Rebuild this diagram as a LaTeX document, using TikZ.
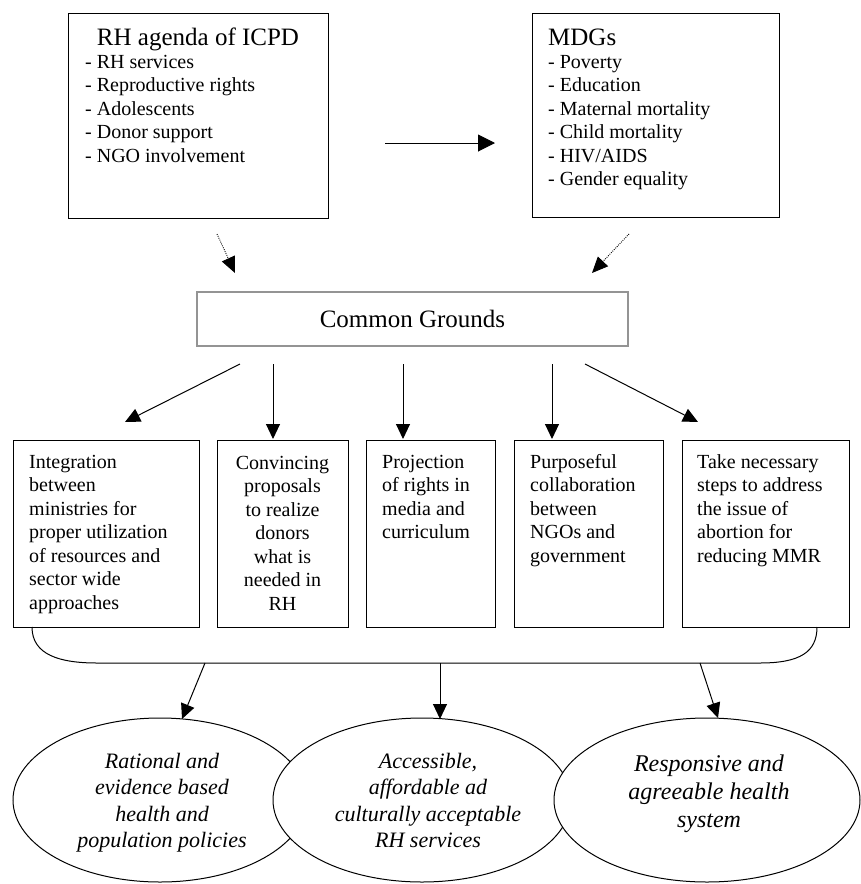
\documentclass[tikz,border=0pt]{standalone}
\usepackage{fontspec}
\setmainfont{Liberation Serif}
\usetikzlibrary{arrows.meta,shapes.geometric}
\tikzset{
  frame/.style={draw, line width=1pt, inner sep=0pt, anchor=north west},
  txt/.style={inner sep=0pt, anchor=base west, align=left, font=\fontsize{20}{23.5}\selectfont},
  ctxt/.style={inner sep=0pt, anchor=base, align=center, font=\fontsize{20}{23.5}\selectfont},
  ttl/.style={inner sep=0pt, font=\fontsize{25}{30}\selectfont},
  arr/.style={line width=1pt, -{Triangle[length=15pt,width=14pt]}},
  bigarr/.style={line width=1pt, -{Triangle[length=17pt,width=17pt]}},
  dotarr/.style={line width=0.9pt, dash pattern=on 0.9pt off 1.2pt, -{Triangle[length=16pt,width=14pt]}},
  oval/.style={ellipse, draw, fill=white, line width=1pt, inner sep=0pt},
  etxt/.style={inner sep=0pt, anchor=base, align=center, font=\itshape\fontsize{22}{26.5}\selectfont},
}
\begin{document}
\begin{tikzpicture}[x=1pt,y=-1pt]
\useasboundingbox (0,0) rectangle (861,884);

% top boxes (multi-line nodes: base anchor = last line's baseline)
\node[frame, minimum width=260, minimum height=205] (icpd) at (68,13) {};
\node[ttl, anchor=base] (icpdT) at (198,45) {RH agenda of ICPD};
\node[txt] (icpdL) at (85,162) {- RH services\\- Reproductive rights\\- Adolescents\\- Donor support\\- NGO involvement};

\node[frame, minimum width=247, minimum height=204] (mdg) at (532,13) {};
\node[ttl, anchor=base west] (mdgT) at (548,45) {MDGs};
\node[txt] (mdgL) at (548,185.5) {- Poverty\\- Education\\- Maternal mortality\\- Child mortality\\- HIV/AIDS\\- Gender equality};

\coordinate (h1) at (385,143);
\coordinate (h2) at (495,143);
\draw[bigarr] (h1) -- (h2);

% common grounds
\node[draw=black!42, line width=2.6pt, minimum width=431, minimum height=54, inner sep=0pt, font=\fontsize{25}{30}\selectfont] (cg) at (412.5,319) {Common Grounds};

\coordinate (d1a) at (217,234);
\coordinate (d1b) at (235,273);
\coordinate (d2a) at (629,234);
\coordinate (d2b) at (592,273);
\draw[dotarr] (d1a) -- (d1b);
\draw[dotarr] (d2a) -- (d2b);

% five boxes
\node[frame, minimum width=186, minimum height=187] (b1) at (13,440) {};
\node[frame, minimum width=131, minimum height=187] (b2) at (217,440) {};
\node[frame, minimum width=129, minimum height=187] (b3) at (366,440) {};
\node[frame, minimum width=149, minimum height=187] (b4) at (514,440) {};
\node[frame, minimum width=167, minimum height=187] (b5) at (682,440) {};

\node[txt] (t1) at (29,609) {Integration\\between\\ministries for\\proper utilization\\of resources and\\sector wide\\approaches};
\node[ctxt] (t2) at (282.5,610) {Convincing\\proposals\\to realize\\donors\\what is\\needed in\\RH};
\node[txt] (t3) at (382,538.5) {Projection\\of rights in\\media and\\curriculum};
\node[txt] (t4) at (530,562) {Purposeful\\collaboration\\between\\NGOs and\\government};
\node[txt] (t5) at (697,562) {Take necessary\\steps to address\\the issue of\\abortion for\\reducing MMR};

% arrows from common grounds
\coordinate (a1s) at (240,364); \coordinate (a1e) at (125,422);
\coordinate (a2s) at (273,364); \coordinate (a2e) at (273,439);
\coordinate (a3s) at (403,364); \coordinate (a3e) at (403,439);
\coordinate (a4s) at (552,364); \coordinate (a4e) at (552,439);
\coordinate (a5s) at (585,364); \coordinate (a5e) at (698,422);
\draw[arr] (a1s) -- (a1e);
\draw[arr] (a2s) -- (a2e);
\draw[arr] (a3s) -- (a3e);
\draw[arr] (a4s) -- (a4e);
\draw[arr] (a5s) -- (a5e);

% brace
\coordinate (bl) at (32,627);
\coordinate (br) at (817,627);
\draw[line width=1pt] (bl) .. controls (32,655) and (60,663) .. (97,663) -- (760,663) .. controls (800,663) and (817,652) .. (br);

% ellipses
\node[oval, minimum width=294, minimum height=164] (e1) at (160,800) {};
\node[oval, minimum width=298, minimum height=164] (e2) at (422,800) {};
\node[oval, minimum width=306, minimum height=164] (e3) at (707,800) {};

\node[etxt] (et1) at (162,847.5) {Rational and\\evidence based\\health and\\population policies};
\node[etxt] (et2) at (428,847.5) {Accessible,\\affordable ad\\culturally acceptable\\RH services};
\node[etxt, font=\itshape\fontsize{24}{28}\selectfont] (et3) at (709,827) {Responsive and\\agreeable health\\system};

\coordinate (o1s) at (205,663); \coordinate (o1e) at (182,719);
\coordinate (o2s) at (440,663); \coordinate (o2e) at (440,719);
\coordinate (o3s) at (700,663); \coordinate (o3e) at (718,718);
\draw[arr] (o1s) -- (o1e);
\draw[arr] (o2s) -- (o2e);
\draw[arr] (o3s) -- (o3e);
\end{tikzpicture}
\end{document}
